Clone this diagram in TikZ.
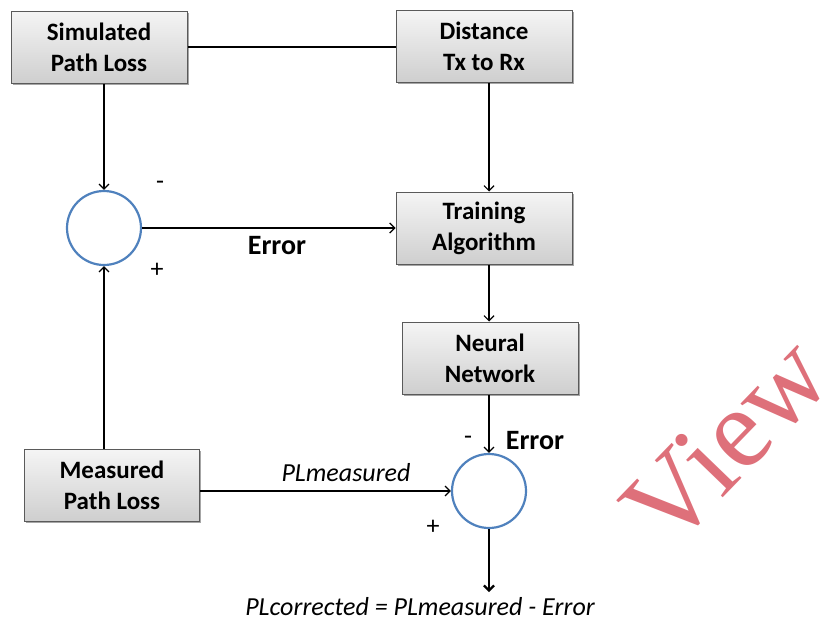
\documentclass[tikz,border=0pt]{standalone}
\usepackage{fontspec}
\setmainfont{Carlito}
\newfontfamily\stampfont{Liberation Serif}
\usetikzlibrary{arrows.meta,shadows}

\definecolor{sumblue}{RGB}{79,129,189}
\definecolor{boxline}{RGB}{90,90,90}
\definecolor{stampred}{RGB}{222,112,122}

\tikzset{
  blockbox/.style={draw=boxline, line width=1pt, top color=gray!8, bottom color=gray!38,
    minimum width=176pt, minimum height=72pt, align=center,
    font=\fontsize{25}{31}\selectfont\bfseries,
    drop shadow={shadow xshift=1.5pt, shadow yshift=-2pt, opacity=0.35, fill=black}},
  sumnode/.style={circle, draw=sumblue, line width=2.2pt, fill=white, minimum size=74pt, inner sep=0pt},
  sign/.style={font=\fontsize{26}{26}\selectfont},
  lbl/.style={font=\fontsize{28}{28}\selectfont\bfseries},
  ilbl/.style={font=\fontsize{26}{26}\selectfont\itshape},
}

\begin{document}
\begin{tikzpicture}[x=1pt, y=-1pt, line width=1.2pt, >={Straight Barb[length=5pt,width=10pt]}]
\useasboundingbox (0,0) rectangle (840,624);
% blocks
\node[blockbox] (sim)   at (99,47)   {Simulated\\Path Loss};
\node[blockbox] (dist)  at (484,46)  {Distance\\Tx to Rx};
\node[blockbox] (train) at (484,228) {Training\\Algorithm};
\node[blockbox] (nn)    at (490,358) {Neural\\Network};
\node[blockbox, minimum width=175pt] (meas) at (112,485) {Measured\\Path Loss};
% summing points
\node[sumnode] (sumA) at (104,228) {};
\node[sumnode] (sumB) at (489,491) {};
\coordinate (out) at (489,592);

% connectors
\draw (sim.east) -- (sim.east -| dist.west);
\draw[->] (sim.south -| sumA) -- (sumA.north);
\draw[->] (meas.north -| sumA) -- (sumA.south);
\draw[->] (sumA) -- (train);
\draw[->] (dist.south -| sumB) -- (train.north -| sumB);
\draw[->] (train.south -| sumB) -- (nn.north -| sumB);
\draw[->] (nn.south -| sumB) -- (sumB.north);
\draw[->] (meas.east |- sumB) -- (sumB);
\draw[->, line width=2.2pt] (sumB) -- (out);

% signs and labels
\node[sign] (mA) at (160,185) {-};
\node[sign] (pA) at (157,270) {+};
\node[lbl] (errA) at (277,246) {Error};
\node[sign] (mB) at (468,440) {-};
\node[lbl] (errB) at (535,441) {Error};
\node[ilbl] (plm) at (346,473) {PLmeasured};
\node[sign] (pB) at (433,527) {+};
\node[ilbl] (plc) at (420,607) {PLcorrected = PLmeasured - Error};
\node[rotate=46, inner sep=0pt, text=stampred, font=\stampfont\fontsize{114}{114}\selectfont] (stamp) at (726,442) {View};
\end{tikzpicture}
\end{document}
